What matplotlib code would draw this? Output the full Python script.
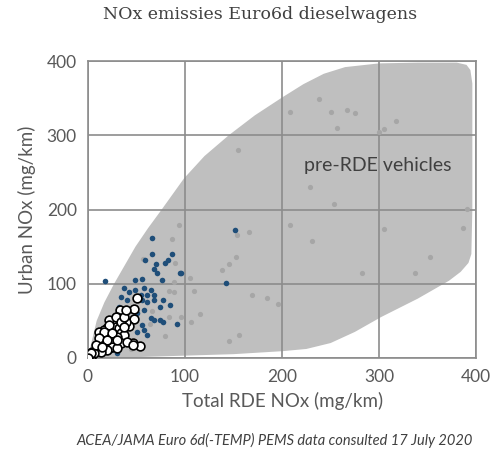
import matplotlib
matplotlib.use("Agg")
import matplotlib.pyplot as plt

# Envelope of pre-RDE vehicles (data coords)
env_x = [0, 2, 5, 9, 17, 27, 38, 49, 62, 76, 99, 120, 145, 172, 200, 222, 243, 265, 300, 340, 380, 390, 394, 396, 396, 396, 395, 392, 384,
         372, 340, 302, 275, 250, 225, 200, 150, 100, 50, 0]
env_y = [0, 12, 28, 50, 75, 100, 125, 150, 175, 200, 242, 272, 300, 327, 351, 369, 383, 392, 397, 398, 398, 395, 388, 370, 300, 200, 140,
         128, 116, 104, 80, 55, 35, 20, 12, 9, 5, 3, 1, 0]

# pre-RDE points (grey)
pre_x = [155, 94, 87, 57, 90, 105, 89, 83, 89, 109, 66, 83, 96, 106, 115, 64, 79, 44, 154, 166, 153, 145, 138, 169, 184, 196, 156, 145,
         238, 208, 250, 267, 275, 317, 257, 305, 300, 229, 254, 390, 386, 208, 231, 305, 352, 337, 282]
pre_y = [280, 179, 160, 133, 128, 108, 102, 90, 89, 90, 63, 55, 55, 48, 59, 46, 30, 12, 166, 170, 136, 127, 119, 85, 81, 73, 31, 23,
         349, 331, 331, 334, 330, 319, 310, 308, 304, 230, 207, 201, 175, 179, 158, 174, 136, 114, 114]

# Euro 6d-TEMP points (blue)
temp_x = [151, 95, 142, 66, 18, 87, 82, 79, 70, 96, 68, 71, 76, 49, 56, 59, 66, 37, 42, 48, 58, 65, 34, 40, 56, 61, 68, 77, 85, 74,
          58, 51, 65, 74, 77, 68, 92, 58, 51, 61, 39, 30, 24, 45, 32, 55, 61, 68, 37, 56, 34, 20]
temp_y = [172, 114, 101, 162, 104, 140, 132, 128, 127, 114, 120, 114, 105, 105, 106, 132, 140, 94, 89, 92, 94, 92, 82, 78, 78, 75, 78, 78, 71, 69,
          65, 60, 54, 51, 49, 51, 46, 38, 35, 31, 22, 7, 11, 65, 69, 85, 85, 85, 51, 44, 24, 31]

# Euro 6d points (white)
d_x = [51, 47, 47, 42, 33, 30, 35, 27, 39, 24, 29, 32, 20, 17, 25, 34, 37, 30, 22, 15, 13, 19, 26, 34, 46, 54, 25, 17, 9, 9, 4, 1, 3, 20,
       30, 13, 6, 22, 11, 29, 34, 22, 37, 17, 25, 11, 20, 30, 40, 46, 8, 15, 3, 0, 37, 39]
d_y = [81, 66, 53, 43, 65, 55, 51, 51, 48, 42, 42, 40, 40, 38, 34, 34, 31, 28, 28, 31, 24, 22, 20, 20, 20, 16, 15, 15, 17, 11, 8, 4, 1, 11,
       13, 8, 7, 51, 35, 55, 49, 44, 42, 35, 34, 27, 24, 24, 22, 18, 18, 15, 7, 0, 55, 65]

ticks = [0, 100, 200, 300, 400]

fig = plt.figure(figsize=(4.94, 4.53), dpi=100)
ax = fig.add_axes([0.178, 0.210, 0.786, 0.655])

ax.fill(env_x, env_y, color="#bfbfbf", lw=0, zorder=0.3)
ax.set_axisbelow(True)
ax.grid(True, color="#8c8c8c", lw=1.2)
ax.scatter(pre_x, pre_y, s=14, color="#a6a6a6", lw=0, zorder=3)
ax.scatter(temp_x, temp_y, s=16, color="#1f4e79", lw=0, zorder=4)
ax.scatter(d_x, d_y, s=40, facecolor="white", edgecolor="black", lw=1.2, zorder=5)

ax.set_xlim(0, 400)
ax.set_ylim(0, 400)
ax.set_xticks(ticks)
ax.set_yticks(ticks)
for s in ax.spines.values():
    s.set_color("#8c8c8c")
    s.set_linewidth(1.2)
ax.tick_params(length=0, labelsize=12.5, labelcolor="#595959", pad=8)
for lab in ax.get_xticklabels() + ax.get_yticklabels():
    lab.set_family("Lato")

ax.text(299, 260, "pre-RDE vehicles", fontsize=14, color="#404040", ha="center", va="center", family="Lato", zorder=6)

ax.set_xlabel("Total RDE NOx (mg/km)", fontsize=13.5, color="#595959", family="Lato", labelpad=5)
ax.set_ylabel("Urban NOx (mg/km)", fontsize=13.5, color="#595959", family="Lato", labelpad=8)

fig.text(0.527, 0.967, "NOx emissies Euro6d dieselwagens", fontsize=12.5, color="#404040",
         family="DejaVu Serif", ha="center", va="center")
fig.text(0.555, 0.028, "ACEA/JAMA Euro 6d(-TEMP) PEMS data consulted 17 July 2020", fontsize=10.5,
         style="italic", color="#404040", family="Lato", ha="center", va="center")

fig.savefig("out.png", dpi=100)
